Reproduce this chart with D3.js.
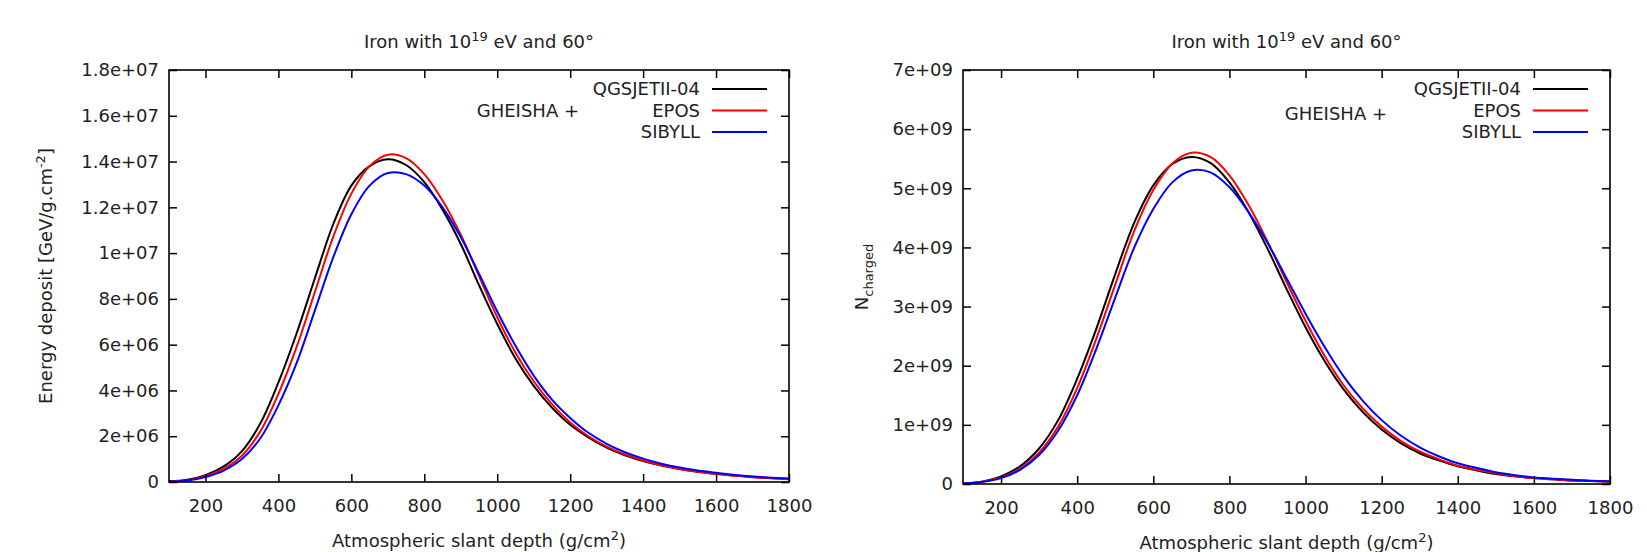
<!DOCTYPE html>
<html>
<head>
<meta charset="utf-8">
<script src="https://cdn.jsdelivr.net/npm/d3@7"></script>
<style>
  body { margin: 0; background: #fff; }
  svg text { font-family: "DejaVu Sans", sans-serif; fill: #222; }
</style>
</head>
<body>
<div id="chart"></div>
<script>
// Slant depth samples (g/cm^2)
const depth = [100, 150, 200, 250, 300, 350, 400, 450, 500, 550, 600, 650, 700, 750, 800, 850, 900,
  950, 1000, 1050, 1100, 1150, 1200, 1250, 1300, 1350, 1400, 1450, 1500, 1550, 1600, 1650, 1700, 1750, 1800];

const models = ["QGSJETII-04", "EPOS", "SIBYLL"];
const colors = ["#000000", "#ff0000", "#0000ff"];

// Energy deposit, in units of 1e6 GeV/g.cm^-2
const edepQgsjet = [0.03, 0.1, 0.3, 0.68, 1.35, 2.55, 4.35, 6.5, 8.9, 11.25, 12.95, 13.8, 14.1, 13.85, 13.1, 11.9, 10.4,
  8.6, 6.9, 5.4, 4.2, 3.25, 2.5, 1.95, 1.5, 1.17, 0.92, 0.72, 0.57, 0.45, 0.36, 0.28, 0.22, 0.17, 0.13];
const edepEpos = [0.02, 0.08, 0.26, 0.58, 1.15, 2.2, 3.85, 5.9, 8.3, 10.7, 12.6, 13.8, 14.3, 14.15, 13.45, 12.3, 10.8,
  9.0, 7.2, 5.65, 4.4, 3.4, 2.6, 2.0, 1.55, 1.2, 0.94, 0.73, 0.57, 0.45, 0.35, 0.27, 0.21, 0.16, 0.12];
const edepSibyll = [0.02, 0.07, 0.22, 0.5, 1.0, 1.9, 3.35, 5.2, 7.5, 9.8, 11.7, 12.95, 13.5, 13.45, 12.95, 12.0, 10.7,
  9.1, 7.45, 5.95, 4.65, 3.6, 2.8, 2.15, 1.67, 1.3, 1.02, 0.8, 0.63, 0.5, 0.4, 0.31, 0.24, 0.19, 0.15];

// Number of charged particles, in units of 1e9
const nchQgsjet = [0.01, 0.04, 0.13, 0.3, 0.6, 1.08, 1.78, 2.62, 3.55, 4.42, 5.05, 5.41, 5.53, 5.43, 5.1, 4.6, 3.98,
  3.3, 2.65, 2.08, 1.6, 1.22, 0.92, 0.69, 0.52, 0.4, 0.3, 0.23, 0.17, 0.13, 0.1, 0.08, 0.06, 0.05, 0.04];
const nchEpos = [0.01, 0.04, 0.11, 0.26, 0.53, 0.97, 1.62, 2.45, 3.37, 4.28, 4.97, 5.42, 5.6, 5.53, 5.22, 4.72, 4.1,
  3.42, 2.76, 2.17, 1.67, 1.28, 0.97, 0.73, 0.55, 0.42, 0.31, 0.24, 0.18, 0.13, 0.1, 0.08, 0.06, 0.05, 0.04];
const nchSibyll = [0.01, 0.035, 0.1, 0.24, 0.49, 0.9, 1.5, 2.28, 3.15, 4.0, 4.65, 5.1, 5.3, 5.27, 5.02, 4.6, 4.08,
  3.48, 2.88, 2.32, 1.82, 1.41, 1.08, 0.82, 0.62, 0.47, 0.35, 0.27, 0.2, 0.15, 0.11, 0.09, 0.07, 0.055, 0.045];

const xTicks = [200, 400, 600, 800, 1000, 1200, 1400, 1600, 1800];
const edepTicks = [0, 2e6, 4e6, 6e6, 8e6, 1e7, 1.2e7, 1.4e7, 1.6e7, 1.8e7];
const edepTickLabels = ["0", "2e+06", "4e+06", "6e+06", "8e+06", "1e+07", "1.2e+07", "1.4e+07", "1.6e+07", "1.8e+07"];
const nchTicks = [0, 1e9, 2e9, 3e9, 4e9, 5e9, 6e9, 7e9];
const nchTickLabels = ["0", "1e+09", "2e+09", "3e+09", "4e+09", "5e+09", "6e+09", "7e+09"];

const W = 1647, H = 552;
const fontSize = 18;

const svg = d3.select("#chart")
  .append("svg")
  .attr("width", W)
  .attr("height", H);

function drawPanel(p) {
  const x = d3.scaleLinear().domain([100, 1800]).range([p.left, p.right]);
  const y = d3.scaleLinear().domain([0, p.yMax]).range([p.bottom, p.top]);
  const g = svg.append("g");

  // curves
  const line = d3.line()
    .x(d => x(d[0]))
    .y(d => y(d[1]))
    .curve(d3.curveCatmullRom.alpha(0.5));
  p.series.forEach((vals, i) => {
    g.append("path")
      .datum(depth.map((dp, j) => [dp, vals[j] * p.unit]))
      .attr("fill", "none")
      .attr("stroke", colors[i])
      .attr("stroke-width", 2)
      .attr("d", line);
  });

  // axes: ticks inward, mirrored
  const tick = 8;
  g.append("g")
    .attr("transform", `translate(0,${p.bottom})`)
    .call(d3.axisBottom(x).tickValues(xTicks).tickSize(-tick).tickPadding(17).tickFormat(d3.format("d")))
    .call(a => a.select(".domain").remove());
  g.append("g")
    .attr("transform", `translate(0,${p.top})`)
    .call(d3.axisTop(x).tickValues(xTicks).tickSize(-tick).tickFormat(""))
    .call(a => a.select(".domain").remove());
  g.append("g")
    .attr("transform", `translate(${p.left},0)`)
    .call(d3.axisLeft(y).tickValues(p.ticks).tickSize(-tick).tickPadding(10)
      .tickFormat((d, i) => p.tickLabels[i]))
    .call(a => a.select(".domain").remove());
  g.append("g")
    .attr("transform", `translate(${p.right},0)`)
    .call(d3.axisRight(y).tickValues(p.ticks).tickSize(-tick).tickFormat(""))
    .call(a => a.select(".domain").remove());
  g.selectAll(".tick line").attr("stroke", "#000").attr("stroke-width", 1.5);
  g.selectAll(".tick text").attr("font-size", fontSize).attr("font-family", "DejaVu Sans").attr("fill", "#222");

  // frame
  g.append("rect")
    .attr("x", p.left).attr("y", p.top)
    .attr("width", p.right - p.left).attr("height", p.bottom - p.top)
    .attr("fill", "none").attr("stroke", "#000").attr("stroke-width", 1.6);

  // title
  const cx = (p.left + p.right) / 2;
  const t = g.append("text").attr("x", cx).attr("y", 48).attr("text-anchor", "middle").attr("font-size", fontSize);
  t.append("tspan").text("Iron with 10");
  t.append("tspan").attr("dy", -7).attr("font-size", 13).text("19");
  t.append("tspan").attr("dy", 7).text(" eV and 60°");

  // x label
  const xl = g.append("text").attr("x", cx).attr("y", p.xLabelY).attr("text-anchor", "middle").attr("font-size", fontSize);
  xl.append("tspan").text("Atmospheric slant depth (g/cm");
  xl.append("tspan").attr("dy", -7).attr("font-size", 13).text("2");
  xl.append("tspan").attr("dy", 7).text(")");

  // y label
  const cy = (p.top + p.bottom) / 2;
  const yl = g.append("text")
    .attr("transform", `translate(${p.yLabelX},${cy}) rotate(-90)`)
    .attr("text-anchor", "middle").attr("font-size", fontSize);
  p.yLabel(yl);

  // legend
  models.forEach((m, i) => {
    const ly = p.top + 19 + i * 21.5;
    g.append("text").attr("x", p.right - 89).attr("y", ly).attr("dy", "0.35em")
      .attr("text-anchor", "end").attr("font-size", fontSize).text(m);
    g.append("line")
      .attr("x1", p.right - 77).attr("x2", p.right - 22)
      .attr("y1", ly).attr("y2", ly)
      .attr("stroke", colors[i]).attr("stroke-width", 2);
  });
  g.append("text").attr("x", p.gheishaX).attr("y", p.gheishaY).attr("dy", "0.35em")
    .attr("text-anchor", "end").attr("font-size", fontSize).text("GHEISHA +");
}

drawPanel({
  left: 169, right: 789, top: 70, bottom: 482,
  yMax: 1.8e7, unit: 1e6,
  ticks: edepTicks, tickLabels: edepTickLabels,
  series: [edepQgsjet, edepEpos, edepSibyll],
  xLabelY: 547, yLabelX: 52,
  gheishaX: 579, gheishaY: 111,
  yLabel: t => {
    t.append("tspan").text("Energy deposit [GeV/g.cm");
    t.append("tspan").attr("dy", -7).attr("font-size", 13).text("-2");
    t.append("tspan").attr("dy", 7).text("]");
  }
});

drawPanel({
  left: 963, right: 1610, top: 70, bottom: 484,
  yMax: 7e9, unit: 1e9,
  ticks: nchTicks, tickLabels: nchTickLabels,
  series: [nchQgsjet, nchEpos, nchSibyll],
  xLabelY: 549, yLabelX: 868,
  gheishaX: 1387, gheishaY: 114,
  yLabel: t => {
    t.append("tspan").text("N");
    t.append("tspan").attr("dy", 5).attr("font-size", 13).text("charged");
  }
});
</script>
</body>
</html>
